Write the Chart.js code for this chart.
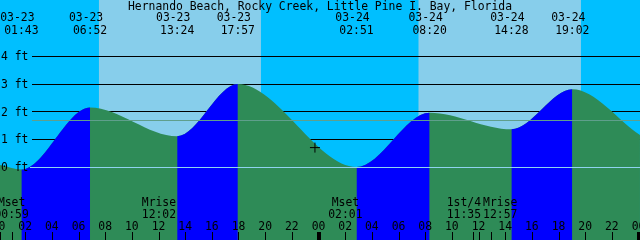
<!DOCTYPE html>
<html>
<head>
<meta charset="utf-8">
<script src="https://cdn.jsdelivr.net/npm/chart.js@4.4.1/dist/chart.umd.min.js"></script>
<style>
  html, body { margin: 0; padding: 0; background: #00bfff; }
  canvas { display: block; }
</style>
</head>
<body>
<canvas id="tidechart" width="640" height="240"></canvas>
<script>
const titleText = 'Hernando Beach, Rocky Creek, Little Pine I. Bay, Florida';

// high / low tides
const tideDates = ['03-23', '03-23', '03-23', '03-23', '03-24', '03-24', '03-24', '03-24'];
const tideClock = ['01:43', '06:52', '13:24', '17:57', '02:51', '08:20', '14:28', '19:02'];
const tideFeet = [-0.08, 2.16, 1.12, 3.0, 0.01, 1.97, 1.37, 2.81];

// water level where the picture is cut off, left and right
const edgeHours = [0.11, 48.11];
const edgeFeet = [0.08, 1.16];

// moon
const moonDates = ['03-23', '03-23', '03-24', '03-24', '03-24'];
const moonClock = ['00:59', '12:02', '02:01', '11:35', '12:57'];
const moonLabels = ['Mset', 'Mrise', 'Mset', '1st/4', 'Mrise'];

// daylight
const sunrise = ['03-23 07:32', '03-24 07:30'];
const sunset = ['03-23 19:41', '03-24 19:41'];

// "now" marker
const nowStamp = '03-23 23:44';
const nowFeet = 0.71;

const levelTicks = [0, 1, 2, 3, 4];
const meanLevel = 1.69;
const hourTicks = [0, 2, 4, 6, 8, 10, 12, 14, 16, 18, 20, 22, 24, 26, 28, 30, 32, 34, 36, 38, 40, 42, 44, 46, 48];

const FONT = '11.4px "DejaVu Sans Mono"';
const GREEN = '#2e8b57';
const BLUE = '#0000ff';

// hours since 03-23 00:00
function toHours(date, clock) {
    const day = parseInt(date.slice(3), 10) - 23;
    const [hh, mm] = clock.split(':').map(Number);
    return day * 24 + hh + mm / 60;
}
function stampHours(stamp) {
    const [d, c] = stamp.split(' ');
    return toHours(d, c);
}

const tideData = [{ x: edgeHours[0], y: edgeFeet[0] }];
tideClock.forEach((c, i) => tideData.push({ x: toHours(tideDates[i], c), y: tideFeet[i] }));
tideData.push({ x: edgeHours[1], y: edgeFeet[1] });

const decor = {
    id: 'tideDecor',
    beforeDraw(chart) {
        const { ctx, chartArea: a, scales: { x } } = chart;
        ctx.save();
        ctx.fillStyle = '#00bfff';
        ctx.fillRect(0, 0, chart.width, chart.height);
        ctx.fillStyle = '#87ceeb';
        sunrise.forEach((s, i) => {
            const x0 = x.getPixelForValue(stampHours(s));
            const x1 = x.getPixelForValue(stampHours(sunset[i]));
            ctx.fillRect(x0, a.top, x1 - x0, a.bottom - a.top);
        });
        ctx.restore();
    },
    beforeDatasetsDraw(chart) {
        // level lines, the water covers them
        const { ctx, chartArea: a, scales: { y } } = chart;
        ctx.save();
        ctx.strokeStyle = '#000';
        ctx.lineWidth = 1;
        levelTicks.filter(v => v > 0).forEach(v => {
            const py = Math.floor(y.getPixelForValue(v)) + 0.5;
            ctx.beginPath();
            ctx.moveTo(32, py);
            ctx.lineTo(a.right, py);
            ctx.stroke();
        });
        ctx.restore();
    },
    afterDatasetsDraw(chart) {
        const { ctx, chartArea: a, scales: { x, y } } = chart;
        ctx.save();

        // zero and mean lines on top of the water
        let py = Math.floor(y.getPixelForValue(0)) + 0.5;
        ctx.strokeStyle = '#8fd3f0';
        ctx.beginPath(); ctx.moveTo(30, py); ctx.lineTo(a.right, py); ctx.stroke();
        py = Math.floor(y.getPixelForValue(meanLevel)) + 0.5;
        ctx.strokeStyle = '#5f9f8c';
        ctx.beginPath(); ctx.moveTo(32, py); ctx.lineTo(a.right, py); ctx.stroke();

        ctx.font = FONT;
        ctx.fillStyle = '#000';
        ctx.textBaseline = 'alphabetic';

        // level labels
        ctx.textAlign = 'left';
        levelTicks.forEach(v => {
            ctx.fillText(v + ' ft', 1, y.getPixelForValue(v) + 3.8);
        });

        // title and tide times
        ctx.textAlign = 'center';
        ctx.fillText(titleText, 320, 9.5);
        tideClock.forEach((c, i) => {
            const px = x.getPixelForValue(toHours(tideDates[i], c));
            ctx.fillText(tideDates[i], px - 4, 21);
            ctx.fillText(c, px, 33.5);
        });

        // moon labels, pushed apart where they would overlap
        const w = ctx.measureText('00:00').width + 2;
        const centers = moonClock.map((c, i) => x.getPixelForValue(toHours(moonDates[i], c)));
        const placed = centers.slice();
        for (let i = 1; i < placed.length; i++) {
            const gap = placed[i] - placed[i - 1];
            if (gap < w) {
                const s = (w - gap) / 2;
                placed[i - 1] -= s;
                placed[i] += s;
            }
        }
        moonLabels.forEach((m, i) => {
            ctx.fillText(m, placed[i], 206);
            ctx.fillText(moonClock[i], placed[i], 217.5);
        });

        // hour labels and ticks
        hourTicks.forEach(h => {
            const px = x.getPixelForValue(h);
            ctx.fillText(String(h % 24).padStart(2, '0'), px, 229.5);
            if (h % 24 === 0) {
                ctx.fillRect(Math.round(px) - 2, 232, 4, 8);
            } else {
                ctx.fillRect(Math.round(px), 232, 1, 8);
            }
        });
        centers.forEach(px => ctx.fillRect(Math.round(px), 232, 1, 8));

        ctx.restore();
    }
};

const ctx = document.getElementById('tidechart').getContext('2d');

const tideChart = new Chart(ctx, {
    type: 'line',
    data: {
        datasets: [{
            // now marker
            data: [{ x: stampHours(nowStamp), y: nowFeet }],
            showLine: false,
            fill: false,
            pointStyle: 'cross',
            pointRadius: 5,
            pointBorderColor: '#000',
            pointBorderWidth: 1,
            order: 0
        }, {
            // rising water in blue, drawn over the green
            data: tideData,
            fill: 'start',
            borderWidth: 0,
            pointRadius: 0,
            cubicInterpolationMode: 'monotone',
            backgroundColor: 'rgba(0,0,0,0)',
            segment: {
                backgroundColor: c => c.p1.parsed.y > c.p0.parsed.y ? BLUE : 'rgba(0,0,0,0)'
            },
            order: 1
        }, {
            // all water in green
            data: tideData,
            fill: 'start',
            borderWidth: 0,
            pointRadius: 0,
            cubicInterpolationMode: 'monotone',
            backgroundColor: GREEN,
            order: 2
        }]
    },
    options: {
        responsive: false,
        animation: false,
        events: [],
        layout: { padding: 0, autoPadding: false },
        plugins: {
            legend: { display: false },
            tooltip: { enabled: false }
        },
        scales: {
            x: { type: 'linear', min: 0.1125, max: 48.1125, display: false },
            y: { type: 'linear', min: -2.62, max: 6.03, display: false }
        }
    },
    plugins: [decor]
});
</script>
</body>
</html>
